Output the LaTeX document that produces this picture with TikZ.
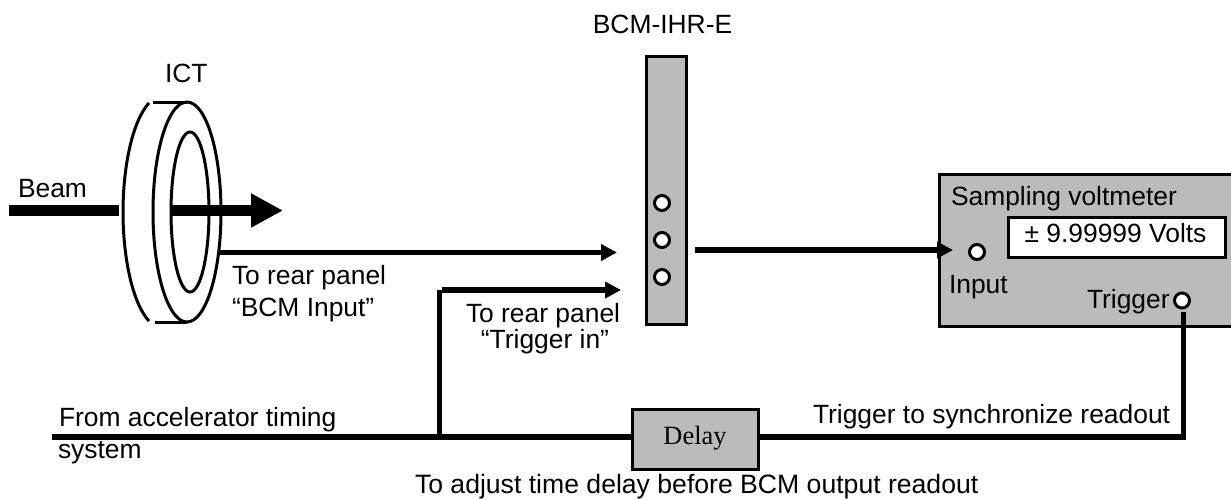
\documentclass[tikz,border=0pt]{standalone}
\usepackage{fontspec}
\setmainfont{Liberation Sans}
\newfontfamily\serifdelay{Liberation Serif}
\usetikzlibrary{arrows.meta}
\definecolor{panel}{HTML}{BBBBBB}
\tikzset{
  txt/.style={inner sep=0pt,outer sep=0pt,anchor=base west,font=\fontsize{26.4}{30}\selectfont},
  ctxt/.style={txt,anchor=base},
  box/.style={draw=black,fill=panel,line width=3pt,inner sep=0pt,outer sep=0pt,anchor=north west},
  port/.style={circle,draw=black,fill=white,line width=3pt,minimum size=15pt,inner sep=0pt,outer sep=0pt},
  ring/.style={draw=black,line width=3pt},
  wire/.style={draw=black,line width=5.5pt},
  feed/.style={wire,-{Triangle[length=16pt,width=16pt]}},
}
\begin{document}
\begin{tikzpicture}[x=1pt,y=-1pt]
\useasboundingbox (0,0) rectangle (1231,499);
% ICT toroid
\draw[ring] (149,103) .. controls (133,120) and (123,165) .. (123,212) .. controls (123,259) and (133,304) .. (149,321);
\draw[ring] (153,102) -- (187,102);
\draw[ring] (155,322) -- (187,322);
\draw[ring] (187,212) ellipse [x radius=34, y radius=110];
\draw[ring] (190,212) ellipse [x radius=19, y radius=80];
% boxes
\node[box,minimum width=40pt,minimum height=268pt] (bcm) at (646,56) {};
\node[box,minimum width=296pt,minimum height=152pt] (volt) at (939,174) {};
\node[draw=black,fill=white,line width=3pt,inner sep=0pt,outer sep=0pt,anchor=north west,minimum width=217pt,minimum height=40pt] (disp) at (1008,217) {};
\node[box,minimum width=126pt,minimum height=60pt] (delay) at (632,409) {};
% ports
\node[port] (p1) at (662,203) {};
\node[port] (p2) at (662,240) {};
\node[port] (p3) at (662,277) {};
\node[port] (pin) at (977,252) {};
\node[port] (ptrig) at (1182,300.5) {};
% free ends
\coordinate (beamA) at (9,210.5);
\coordinate (beamB) at (119,210.5);
\coordinate (beamC) at (172,210.5);
\coordinate (beamD) at (283,210.5);
\coordinate (ictout) at (220,252.5);
\coordinate (bcmin) at (617,252.5);
\coordinate (timing) at (52,437);
\coordinate (branch) at (439,437);
\coordinate (corner) at (439,290);
\coordinate (trigin) at (621,290);
\coordinate (bcmout) at (695,250);
\coordinate (voltin) at (953,250);
\coordinate (trigend) at (1183.5,437);
\coordinate (trigtop) at (1183.5,312);
% connectors
\draw[black,line width=11pt] (beamA) -- (beamB);
\draw[black,line width=11pt,-{Triangle[length=32pt,width=32pt]}] (beamC) -- (beamD);
\draw[feed] (ictout) -- (bcmin);
\draw[wire,line width=5pt] (branch) -- (corner);
\draw[feed] (corner) ++(3,0) -- (trigin);
\draw[feed] (bcmout) -- (voltin);
\draw[wire] (timing) -- (timing -| delay.west);
\draw[wire,line join=miter] (trigend -| delay.east) -- (trigend) -- (trigtop);
% labels
\node[ctxt] (lbcm) at (662.5,33) {BCM-IHR-E};
\node[txt] (lict) at (165,82) {ICT};
\node[txt] (lbeam) at (18,197) {Beam};
\node[txt] (l1) at (232,284) {To rear panel};
\node[txt] (l2) at (232,316) {“BCM Input”};
\node[txt] (l3) at (466,322) {To rear panel};
\node[ctxt] (l4) at (545,348) {“Trigger in”};
\node[txt] (l5) at (951,205) {Sampling voltmeter};
\node[ctxt] (l6) at (1115.5,242) {± 9.99999 Volts};
\node[txt] (l7) at (949,293) {Input};
\node[txt] (l8) at (1087,308) {Trigger};
\node[txt] (l9) at (59,426) {From accelerator timing};
\node[txt] (l10) at (58,458) {system};
\node[ctxt,font=\serifdelay\fontsize{26.4}{30}\selectfont] (l11) at (695,444) {Delay};
\node[txt] (l12) at (813,423) {Trigger to synchronize readout};
\node[txt,font=\fontsize{26.6}{30}\selectfont] (l13) at (415,493) {To adjust time delay before BCM output readout};
\end{tikzpicture}
\end{document}
